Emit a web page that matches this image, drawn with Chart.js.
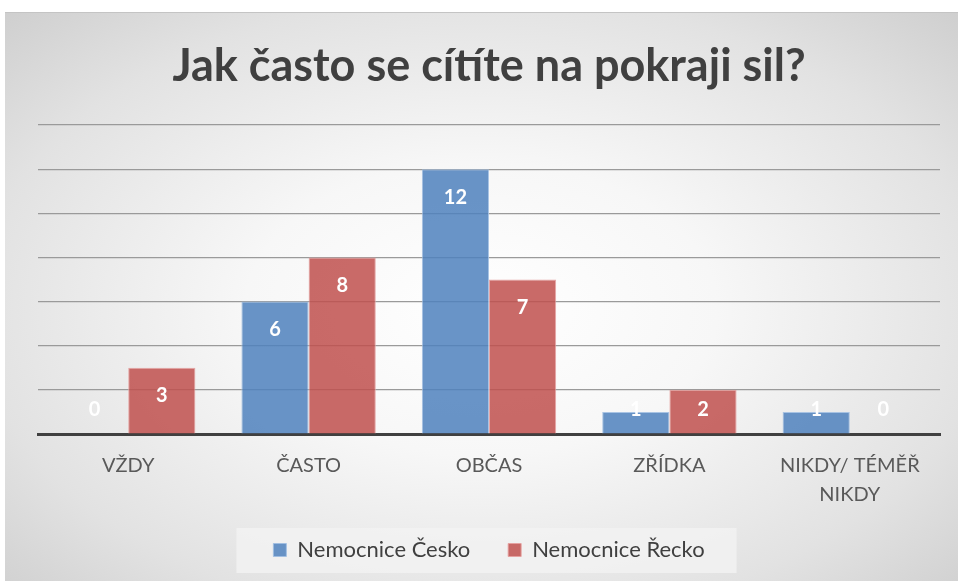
<!DOCTYPE html>
<html>
<head>
<meta charset="utf-8">
<script src="https://cdn.jsdelivr.net/npm/chart.js@4"></script>
<style>
  body { margin: 0; background: #ffffff; }
  #wrap {
    position: absolute; left: 5px; top: 12px; width: 953px; height: 569px;
    border-top: 1px solid #c4c4c4;
    background: radial-gradient(ellipse at 50% 52%, #ffffff 0%, #f7f7f7 35%, #e2e2e2 75%, #cfcfcf 100%);
  }
</style>
</head>
<body>
<div id="wrap"><canvas id="graphique" width="953" height="569"></canvas></div>
<script>
var kategorie = ['VŽDY', 'ČASTO', 'OBČAS', 'ZŘÍDKA', ['NIKDY/ TÉMĚŘ', 'NIKDY']];
var cesko = [0, 6, 12, 1, 1];
var recko = [3, 8, 7, 2, 0];

// bily popisek hodnoty uvnitr sloupce
var popisky = {
    id: 'popisky',
    afterDatasetsDraw: function(chart) {
        var ctx = chart.ctx;
        var base = chart.scales.y.getPixelForValue(0);
        ctx.save();
        ctx.fillStyle = '#ffffff';
        ctx.font = 'bold 20px Lato';
        ctx.textAlign = 'center';
        ctx.textBaseline = 'middle';
        chart.data.datasets.forEach(function(ds, i) {
            chart.getDatasetMeta(i).data.forEach(function(bar, j) {
                var y = Math.min(bar.y + 28, base - 24);
                ctx.fillText(ds.data[j], bar.x, y);
            });
        });
        ctx.restore();
    }
};

// svetly ramecek pod legendou
var ramecekLegendy = {
    id: 'ramecekLegendy',
    beforeDraw: function(chart) {
        var boxes = chart.legend.legendHitBoxes;
        if (!boxes || !boxes.length) return;
        var first = boxes[0], last = boxes[boxes.length - 1];
        var ctx = chart.ctx;
        ctx.save();
        ctx.fillStyle = 'rgba(242,242,242,0.8)';
        var l = first.left - 37, r = last.left + last.width + 32;
        var cy = first.top + first.height / 2;
        ctx.fillRect(l, cy - 22, r - l, 45);
        ctx.restore();
    }
};

var ctx1 = document.getElementById('graphique').getContext('2d');
var graphique = new Chart(ctx1, {
    type: 'bar',
    data: {
        labels: kategorie,
        datasets: [{
            label: 'Nemocnice Česko   ',
            data: cesko,
            backgroundColor: 'rgba(79,129,189,0.85)',
            borderColor: 'rgba(160,190,225,0.9)',
            borderWidth: 1
        }, {
            label: 'Nemocnice Řecko',
            data: recko,
            backgroundColor: 'rgba(192,80,77,0.85)',
            borderColor: 'rgba(230,160,158,0.9)',
            borderWidth: 1
        }]
    },
    options: {
        responsive: false,
        animation: false,
        datasets: { bar: { categoryPercentage: 0.745, barPercentage: 1 } },
        layout: { padding: { left: 33, right: 18, top: 0, bottom: 11 } },
        plugins: {
            title: {
                display: true,
                text: 'Jak často se cítíte na pokraji sil?',
                color: '#404040',
                font: { family: 'Lato', size: 45, weight: 'bold' },
                padding: { top: 26, bottom: 32 }
            },
            legend: {
                position: 'bottom',
                labels: {
                    color: '#404040',
                    font: { family: 'Lato', size: 22 },
                    boxWidth: 13,
                    boxHeight: 13,
                    padding: 21
                }
            },
            tooltip: { enabled: false }
        },
        scales: {
            x: {
                z: 1,
                grid: { display: false },
                border: { color: '#404040', width: 3 },
                ticks: {
                    color: '#595959',
                    font: { family: 'Lato', size: 20, lineHeight: 1.45 },
                    padding: 9,
                    maxRotation: 0
                }
            },
            y: {
                min: 0,
                max: 14,
                ticks: { display: false, stepSize: 2 },
                grid: { color: '#9a9a9a', lineWidth: 1.2, drawTicks: false },
                border: { display: false }
            }
        }
    },
    plugins: [popisky, ramecekLegendy]
});
</script>
</body>
</html>
